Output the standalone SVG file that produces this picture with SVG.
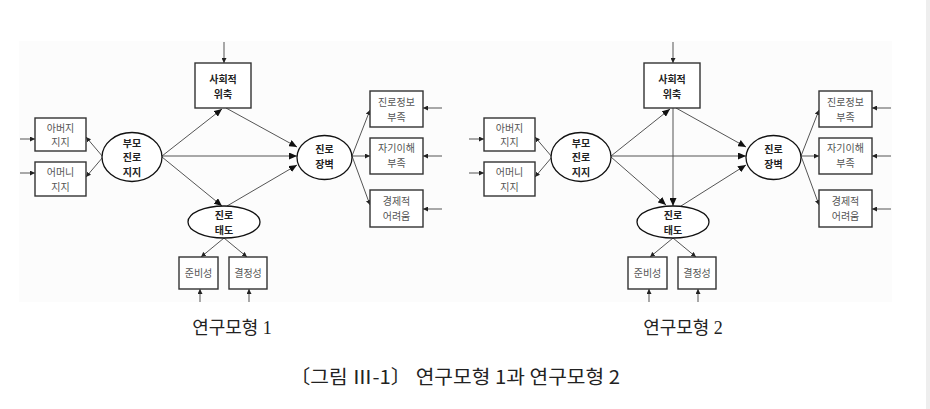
<svg xmlns="http://www.w3.org/2000/svg" width="930" height="409" viewBox="0 0 930 409">
<defs>
<style>
.box{fill:#fff;stroke:#333;stroke-width:1.4}
.ell{fill:#fff;stroke:#111;stroke-width:1.3}
.lbl{font-family:"Noto Sans CJK KR","Noto Sans CJK SC",sans-serif;font-size:10px;fill:#555;text-anchor:middle}
.blbl{font-family:"Noto Sans CJK KR","Noto Sans CJK SC",sans-serif;font-size:10px;font-weight:bold;fill:#222;text-anchor:middle}
.ln{stroke:#555;stroke-width:1;fill:none}
.big{marker-end:url(#ab)}
.sm{marker-end:url(#as)}
.cap{font-family:"Liberation Serif","Noto Sans CJK KR",serif;font-size:18px;fill:#222;text-anchor:middle}
.title{font-family:"Noto Sans CJK KR","Noto Sans CJK SC",sans-serif;font-size:19px;fill:#222}
</style>
<marker id="ab" markerUnits="userSpaceOnUse" markerWidth="8" markerHeight="7" refX="8" refY="3.5" orient="auto"><path d="M0,0 L8,3.5 L0,7 z" fill="#111"/></marker>
<marker id="as" markerUnits="userSpaceOnUse" markerWidth="5" markerHeight="5" refX="5" refY="2.5" orient="auto"><path d="M0,0 L5,2.5 L0,5 z" fill="#222"/></marker>
</defs>
<rect x="0" y="0" width="930" height="409" fill="#fff"/>
<rect x="19" y="41" width="873" height="261" fill="#fcfcfc"/>
<rect x="926" y="0" width="4" height="409" fill="#eeeeee"/>

<!-- Model 1 -->
<g id="model1">
<g id="connectors1">
<line class="ln sm" x1="224" y1="42" x2="224" y2="63"/>
<line class="ln sm" x1="20" y1="139" x2="35" y2="139"/>
<line class="ln sm" x1="20" y1="173" x2="35" y2="173"/>
<line class="ln sm" x1="442" y1="108" x2="423" y2="108"/>
<line class="ln sm" x1="442" y1="156" x2="423" y2="156"/>
<line class="ln sm" x1="442" y1="209" x2="423" y2="209"/>
<line class="ln sm" x1="200" y1="302" x2="200" y2="289"/>
<line class="ln sm" x1="249" y1="302" x2="249" y2="289"/>
<line class="ln sm" x1="103" y1="157" x2="86" y2="137"/>
<line class="ln sm" x1="103" y1="157" x2="86" y2="177"/>
<line class="ln big" x1="162" y1="156" x2="222" y2="109"/>
<line class="ln big" x1="162" y1="156" x2="297" y2="156"/>
<line class="ln big" x1="162" y1="157" x2="222" y2="206"/>
<line class="ln big" x1="226" y1="108" x2="297" y2="147"/>
<line class="ln big" x1="227" y1="206" x2="297" y2="165"/>
<line class="ln sm" x1="352" y1="156" x2="370" y2="110"/>
<line class="ln sm" x1="352" y1="156" x2="370" y2="156"/>
<line class="ln sm" x1="352" y1="156" x2="370" y2="205"/>
<line class="ln sm" x1="224" y1="238" x2="201" y2="257"/>
<line class="ln sm" x1="224" y1="238" x2="247" y2="257"/>
</g>
<g id="m1-social"><rect class="box" x="195" y="63" width="56" height="45"/><text class="blbl" x="223" y="83"><tspan x="223">사회적</tspan><tspan x="223" dy="14.5">위축</tspan></text></g>
<g id="m1-father"><rect class="box" x="35" y="118" width="51" height="33"/><text class="lbl" x="60.5" y="131.5"><tspan x="60.5">아버지</tspan><tspan x="60.5" dy="14.5">지지</tspan></text></g>
<g id="m1-mother"><rect class="box" x="35" y="162" width="51" height="34"/><text class="lbl" x="60.5" y="176"><tspan x="60.5">어머니</tspan><tspan x="60.5" dy="14.5">지지</tspan></text></g>
<g id="m1-parent"><ellipse class="ell" cx="132" cy="157" rx="30" ry="24.5"/><text class="blbl" x="132" y="146.5"><tspan x="132">부모</tspan><tspan x="132" dy="14.5">진로</tspan><tspan x="132" dy="14.5">지지</tspan></text></g>
<g id="m1-barrier"><ellipse class="ell" cx="324.5" cy="157.5" rx="27.5" ry="22"/><text class="blbl" x="324.5" y="153"><tspan x="324.5">진로</tspan><tspan x="324.5" dy="14.5">장벽</tspan></text></g>
<g id="m1-attitude"><ellipse class="ell" cx="224" cy="222" rx="36" ry="16"/><text class="blbl" x="224" y="219"><tspan x="224">진로</tspan><tspan x="224" dy="14.5">태도</tspan></text></g>
<g id="m1-info"><rect class="box" x="370" y="91" width="53" height="36"/><text class="lbl" x="396.5" y="106"><tspan x="396.5">진로정보</tspan><tspan x="396.5" dy="14.5">부족</tspan></text></g>
<g id="m1-self"><rect class="box" x="370" y="138" width="53" height="36"/><text class="lbl" x="396.5" y="152"><tspan x="396.5">자기이해</tspan><tspan x="396.5" dy="14.5">부족</tspan></text></g>
<g id="m1-econ"><rect class="box" x="370" y="190" width="53" height="37"/><text class="lbl" x="396.5" y="205"><tspan x="396.5">경제적</tspan><tspan x="396.5" dy="14.5">어려움</tspan></text></g>
<g id="m1-ready"><rect class="box" x="179" y="257" width="39" height="32"/><text class="lbl" x="198.5" y="277">준비성</text></g>
<g id="m1-decide"><rect class="box" x="229" y="257" width="38" height="32"/><text class="lbl" x="248" y="277">결정성</text></g>
</g>

<!-- Model 2 -->
<g id="model2" transform="translate(449,0)">
<g id="connectors2">
<line class="ln sm" x1="224" y1="42" x2="224" y2="63"/>
<line class="ln sm" x1="20" y1="139" x2="35" y2="139"/>
<line class="ln sm" x1="20" y1="173" x2="35" y2="173"/>
<line class="ln sm" x1="442" y1="108" x2="423" y2="108"/>
<line class="ln sm" x1="442" y1="156" x2="423" y2="156"/>
<line class="ln sm" x1="442" y1="209" x2="423" y2="209"/>
<line class="ln sm" x1="200" y1="302" x2="200" y2="289"/>
<line class="ln sm" x1="249" y1="302" x2="249" y2="289"/>
<line class="ln sm" x1="103" y1="157" x2="86" y2="137"/>
<line class="ln sm" x1="103" y1="157" x2="86" y2="177"/>
<line class="ln big" x1="162" y1="156" x2="221" y2="109"/>
<line class="ln big" x1="162" y1="156" x2="297" y2="156"/>
<line class="ln big" x1="162" y1="157" x2="217" y2="205"/>
<line class="ln big" x1="224" y1="108" x2="224" y2="206"/>
<line class="ln big" x1="227" y1="108" x2="297" y2="147"/>
<line class="ln big" x1="232" y1="206" x2="297" y2="165"/>
<line class="ln sm" x1="352" y1="156" x2="370" y2="110"/>
<line class="ln sm" x1="352" y1="156" x2="370" y2="156"/>
<line class="ln sm" x1="352" y1="156" x2="370" y2="205"/>
<line class="ln sm" x1="224" y1="238" x2="201" y2="257"/>
<line class="ln sm" x1="224" y1="238" x2="247" y2="257"/>
</g>
<g id="m2-social"><rect class="box" x="195" y="63" width="56" height="45"/><text class="blbl" x="223" y="83"><tspan x="223">사회적</tspan><tspan x="223" dy="14.5">위축</tspan></text></g>
<g id="m2-father"><rect class="box" x="35" y="118" width="51" height="33"/><text class="lbl" x="60.5" y="131.5"><tspan x="60.5">아버지</tspan><tspan x="60.5" dy="14.5">지지</tspan></text></g>
<g id="m2-mother"><rect class="box" x="35" y="162" width="51" height="34"/><text class="lbl" x="60.5" y="176"><tspan x="60.5">어머니</tspan><tspan x="60.5" dy="14.5">지지</tspan></text></g>
<g id="m2-parent"><ellipse class="ell" cx="132" cy="157" rx="30" ry="24.5"/><text class="blbl" x="132" y="146.5"><tspan x="132">부모</tspan><tspan x="132" dy="14.5">진로</tspan><tspan x="132" dy="14.5">지지</tspan></text></g>
<g id="m2-barrier"><ellipse class="ell" cx="324.5" cy="157.5" rx="27.5" ry="22"/><text class="blbl" x="324.5" y="153"><tspan x="324.5">진로</tspan><tspan x="324.5" dy="14.5">장벽</tspan></text></g>
<g id="m2-attitude"><ellipse class="ell" cx="224" cy="222" rx="36" ry="16"/><text class="blbl" x="224" y="219"><tspan x="224">진로</tspan><tspan x="224" dy="14.5">태도</tspan></text></g>
<g id="m2-info"><rect class="box" x="370" y="91" width="53" height="36"/><text class="lbl" x="396.5" y="106"><tspan x="396.5">진로정보</tspan><tspan x="396.5" dy="14.5">부족</tspan></text></g>
<g id="m2-self"><rect class="box" x="370" y="138" width="53" height="36"/><text class="lbl" x="396.5" y="152"><tspan x="396.5">자기이해</tspan><tspan x="396.5" dy="14.5">부족</tspan></text></g>
<g id="m2-econ"><rect class="box" x="370" y="190" width="53" height="37"/><text class="lbl" x="396.5" y="205"><tspan x="396.5">경제적</tspan><tspan x="396.5" dy="14.5">어려움</tspan></text></g>
<g id="m2-ready"><rect class="box" x="179" y="257" width="39" height="32"/><text class="lbl" x="198.5" y="277">준비성</text></g>
<g id="m2-decide"><rect class="box" x="229" y="257" width="38" height="32"/><text class="lbl" x="248" y="277">결정성</text></g>
</g>

<g id="captions">
<text class="cap" x="232" y="334">연구모형 1</text>
<text class="cap" x="683" y="334">연구모형 2</text>
<text class="title" x="290" y="384" textLength="330" lengthAdjust="spacingAndGlyphs">〔그림 Ⅲ-1〕 연구모형 1과 연구모형 2</text>
</g>
</svg>
